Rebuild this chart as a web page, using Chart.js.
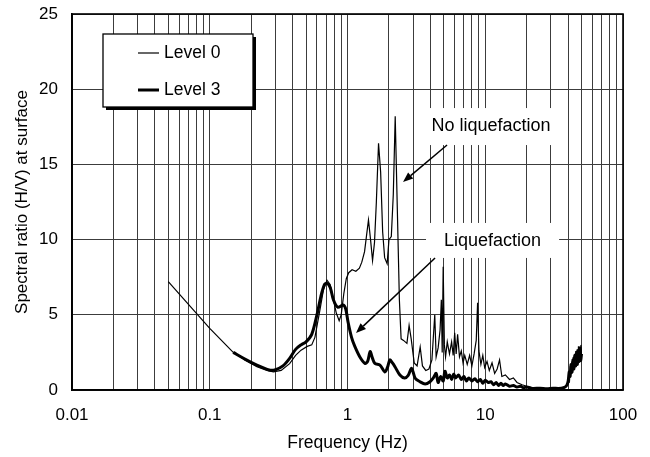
<!DOCTYPE html>
<html>
<head>
<meta charset="utf-8">
<script src="https://cdn.jsdelivr.net/npm/chart.js@4/dist/chart.umd.min.js"></script>
<style>
  html, body { margin: 0; padding: 0; background: #fff; }
  #c { display: block; }
</style>
</head>
<body>
<canvas id="c" width="650" height="457"></canvas>
<script>
// ---------------- DATA ----------------
const seriesNames = ['Level 0', 'Level 3'];

// Level 0 (thin line)
const level0Freq = [
  0.05, 0.1, 0.148, 0.18, 0.22, 0.26, 0.29, 0.33, 0.38, 0.42, 0.46, 0.51, 0.55, 0.58,
  0.63, 0.67, 0.71, 0.75, 0.79, 0.83, 0.87, 0.9, 0.94, 0.98, 1.02, 1.08, 1.15, 1.22,
  1.27, 1.33, 1.38, 1.42, 1.47, 1.52, 1.57, 1.62, 1.68, 1.74, 1.8, 1.86, 1.94, 2.0,
  2.08, 2.15, 2.22, 2.3, 2.38, 2.45, 2.55, 2.7, 2.8, 2.9, 3.05, 3.2, 3.37, 3.5, 3.7,
  3.9, 4.1, 4.3, 4.4, 4.55, 4.7, 4.8, 4.87, 4.95, 5.05, 5.15, 5.3, 5.5, 5.7, 5.85,
  6.0, 6.15, 6.3, 6.5, 6.7, 6.9, 7.1, 7.4, 7.7, 8.0, 8.3, 8.6, 8.8, 9.0, 9.3, 9.6,
  9.9, 10.3, 10.7, 11.2, 11.7, 12.2, 12.7, 13.2, 14, 15, 16, 17, 18.5, 20, 22, 25,
  30, 35, 38, 40, 40.5, 41, 41.5, 42, 42.5, 43, 43.5, 44, 44.5, 45, 45.5, 46, 46.5,
  47, 47.5, 48, 48.5, 49, 49.5, 50
];
const level0Ratio = [
  7.2, 4.1, 2.5, 2.0, 1.55, 1.3, 1.2, 1.3, 1.75, 2.3, 2.65, 2.9, 3.0, 3.5,
  5.3, 6.7, 7.3, 7.0, 6.0, 5.1, 4.6, 5.0, 6.4, 7.4, 7.8, 8.0, 7.9, 8.1,
  8.5, 9.2, 10.4, 11.3, 10.0, 8.6, 9.8, 12.5, 16.4, 14.5, 10.5, 8.8, 8.4, 10.0,
  10.2, 13.0, 18.2, 12.0, 6.0, 3.4, 3.3, 3.1, 4.3, 3.4, 1.8, 1.6, 2.86, 1.6, 1.3,
  1.4, 2.0, 5.0, 2.2, 2.8, 4.0, 6.0, 2.5, 8.2, 3.0, 2.2, 3.2, 2.4, 3.2, 2.3,
  3.8, 2.4, 3.7, 2.2, 2.6, 1.8, 2.3, 1.7, 2.3, 1.6, 2.4, 3.3, 5.8, 2.6, 1.7, 2.3,
  1.5, 1.9, 1.3, 1.8, 1.1, 1.4, 2.0, 0.9, 1.0, 0.7, 0.8, 0.5, 0.35, 0.25, 0.15, 0.1,
  0.1, 0.1, 0.2, 0.5, 1.1, 0.8, 1.6, 1.1, 1.9, 1.3, 2.2, 1.5, 2.4, 1.6, 2.6, 1.8, 2.7,
  1.7, 2.9, 2.0, 2.8, 1.9, 3.0, 2.3
];

// Level 3 (thick line)
const level3Freq = [
  0.148, 0.18, 0.22, 0.27, 0.3, 0.34, 0.38, 0.42, 0.46, 0.5, 0.55, 0.6, 0.64, 0.68,
  0.71, 0.75, 0.79, 0.85, 0.93, 0.97, 1.01, 1.07, 1.13, 1.23, 1.34, 1.4, 1.46, 1.52,
  1.58, 1.72, 1.87, 1.95, 2.03, 2.12, 2.21, 2.4, 2.6, 2.75, 2.92, 3.1, 3.36, 3.66,
  3.97, 4.2, 4.4, 4.55, 4.75, 4.95, 5.1, 5.3, 5.5, 5.7, 5.9, 6.1, 6.4, 6.7, 7.0,
  7.3, 7.6, 8.0, 8.4, 8.8, 9.2, 9.6, 10.0, 10.5, 11, 11.5, 12, 12.5, 13, 13.5, 14,
  15, 16, 17, 18, 19, 20, 22, 25, 28, 31, 34, 37, 39, 40, 40.7, 41.3, 42, 42.7, 43.3,
  44, 44.7, 45.3, 46, 46.7, 47.3, 48, 48.7, 49.3, 50
];
const level3Ratio = [
  2.5, 2.05, 1.65, 1.33, 1.35, 1.6, 2.1, 2.7, 3.0, 3.2, 3.7, 5.0, 6.2, 7.0,
  7.1, 6.8, 6.0, 5.5, 5.65, 5.4, 4.5, 3.5, 2.9, 2.2, 1.77, 1.9, 2.55, 2.1,
  1.77, 1.66, 1.2, 1.5, 2.0, 1.8, 1.55, 1.0, 0.8, 0.95, 1.44, 0.78, 0.55, 0.4,
  0.55, 0.8, 1.1, 0.5, 0.9, 0.6, 1.25, 0.8, 1.0, 0.7, 1.05, 0.8, 1.0, 0.7, 0.9,
  0.6, 0.8, 0.6, 0.75, 0.55, 0.7, 0.45, 0.65, 0.5, 0.55, 0.35, 0.5, 0.3, 0.45, 0.3, 0.4,
  0.25, 0.3, 0.2, 0.25, 0.15, 0.2, 0.1, 0.12, 0.08, 0.12, 0.1, 0.15, 0.3, 0.6, 1.2, 0.9, 1.7, 1.2, 2.0,
  1.4, 2.3, 1.6, 2.5, 1.7, 2.6, 1.9, 2.8, 2.0, 2.4
];

// Axis ticks
const xDecades = [0.01, 0.1, 1, 10, 100];
const xDecadeLabels = ['0.01', '0.1', '1', '10', '100'];
const yTicks = [0, 5, 10, 15, 20, 25];

// Annotations (data coordinates)
const annotationTexts = ['No liquefaction', 'Liquefaction'];
const annotationAt = [[11.0, 17.55], [11.3, 9.91]];
const arrowFrom = [[5.28, 16.29], [4.32, 8.78]];
const arrowTo = [[2.53, 13.83], [1.153, 3.79]];

// ---------------- BUILD ----------------
const toPoints = (xs, ys) => xs.map((x, i) => ({ x: x, y: ys[i] }));

const xTickValues = [];
for (let e = -2; e <= 1; e++) {
  for (let m = 1; m <= 9; m++) xTickValues.push(Number((m * Math.pow(10, e)).toPrecision(3)));
}
xTickValues.push(100);

const FONT = "'Liberation Sans', Arial, Helvetica, sans-serif";

const annotationBoxes = [
  { padX: 11, up: 18, down: 19 },
  { padX: 18, up: 18, down: 17 }
];

const decorPlugin = {
  id: 'decor',
  beforeDatasetsDraw(chart) {
    const { ctx, scales: { x, y } } = chart;
    ctx.save();
    ctx.font = '18px ' + FONT;
    annotationTexts.forEach((t, i) => {
      const cx = x.getPixelForValue(annotationAt[i][0]);
      const cy = y.getPixelForValue(annotationAt[i][1]);
      const w = ctx.measureText(t).width;
      const b = annotationBoxes[i];
      ctx.fillStyle = '#fff';
      ctx.fillRect(cx - w / 2 - b.padX, cy - b.up, w + 2 * b.padX, b.up + b.down);
    });
    ctx.restore();
  },
  afterDatasetsDraw(chart) {
    const { ctx, chartArea: a, scales: { x, y } } = chart;
    ctx.save();
    // frame
    ctx.strokeStyle = '#000';
    ctx.lineWidth = 1.6;
    ctx.strokeRect(a.left, a.top, a.right - a.left, a.bottom - a.top);

    // annotation texts
    ctx.fillStyle = '#000';
    ctx.font = '18px ' + FONT;
    ctx.textAlign = 'center';
    ctx.textBaseline = 'middle';
    annotationTexts.forEach((t, i) => {
      ctx.fillText(t, x.getPixelForValue(annotationAt[i][0]), y.getPixelForValue(annotationAt[i][1]));
    });
    // arrows
    arrowFrom.forEach((f, i) => {
      const x1 = x.getPixelForValue(f[0]), y1 = y.getPixelForValue(f[1]);
      const x2 = x.getPixelForValue(arrowTo[i][0]), y2 = y.getPixelForValue(arrowTo[i][1]);
      const ang = Math.atan2(y2 - y1, x2 - x1);
      const hl = 10, hw = 4;
      const bx = x2 - hl * Math.cos(ang), by = y2 - hl * Math.sin(ang);
      ctx.strokeStyle = '#000';
      ctx.lineWidth = 1.5;
      ctx.beginPath();
      ctx.moveTo(x1, y1);
      ctx.lineTo(bx, by);
      ctx.stroke();
      ctx.beginPath();
      ctx.moveTo(x2, y2);
      ctx.lineTo(bx + hw * Math.sin(ang), by - hw * Math.cos(ang));
      ctx.lineTo(bx - hw * Math.sin(ang), by + hw * Math.cos(ang));
      ctx.closePath();
      ctx.fill();
    });

    // legend box
    const lx = a.left + 31, ly = a.top + 20, lw = 150, lh = 73;
    ctx.fillStyle = '#000';
    ctx.fillRect(lx + 3, ly + 3, lw, lh);
    ctx.fillStyle = '#fff';
    ctx.fillRect(lx, ly, lw, lh);
    ctx.strokeStyle = '#000';
    ctx.lineWidth = 1.3;
    ctx.strokeRect(lx, ly, lw, lh);
    const widths = [1.2, 3];
    const rowY = [ly + 19, ly + 56];
    ctx.font = '17.5px ' + FONT;
    ctx.textAlign = 'left';
    ctx.textBaseline = 'middle';
    seriesNames.forEach((n, i) => {
      ctx.lineWidth = widths[i];
      ctx.beginPath();
      ctx.moveTo(lx + 35, rowY[i]);
      ctx.lineTo(lx + 56, rowY[i]);
      ctx.stroke();
      ctx.fillStyle = '#000';
      ctx.fillText(n, lx + 61, rowY[i]);
    });
    ctx.restore();
  }
};

new Chart(document.getElementById('c'), {
  type: 'line',
  data: {
    datasets: [
      {
        label: seriesNames[1],
        data: toPoints(level3Freq, level3Ratio),
        borderColor: '#000',
        borderWidth: 3,
        borderJoinStyle: 'round',
        pointRadius: 0,
        tension: 0.3,
        fill: false
      },
      {
        label: seriesNames[0],
        data: toPoints(level0Freq, level0Ratio),
        borderColor: '#000',
        borderWidth: 1.2,
        pointRadius: 0,
        tension: 0,
        fill: false
      }
    ]
  },
  options: {
    responsive: false,
    animation: false,
    devicePixelRatio: 1,
    layout: { autoPadding: false, padding: { top: 14, right: 27, left: 0, bottom: 0 } },
    plugins: { legend: { display: false }, tooltip: { enabled: false } },
    scales: {
      x: {
        type: 'logarithmic',
        min: 0.01,
        max: 100,
        afterBuildTicks: (axis) => { axis.ticks = xTickValues.map(v => ({ value: v })); },
        afterFit: (s) => { s.height = 67; s.paddingLeft = 0; s.paddingRight = 0; },
        ticks: {
          autoSkip: false,
          maxRotation: 0,
          padding: 15,
          color: '#000',
          font: { family: FONT, size: 17 },
          callback: (v) => {
            const i = xDecades.findIndex(d => Math.abs(d - v) / d < 1e-6);
            return i >= 0 ? xDecadeLabels[i] : '';
          }
        },
        grid: { color: '#3c3c3c', lineWidth: 1, drawTicks: false },
        border: { color: '#000', width: 1.6 },
        title: {
          display: true,
          text: 'Frequency (Hz)',
          color: '#000',
          font: { family: FONT, size: 17.5 },
          padding: { top: 0, bottom: 3 }
        }
      },
      y: {
        type: 'linear',
        min: 0,
        max: 25,
        afterBuildTicks: (axis) => { axis.ticks = yTicks.map(v => ({ value: v })); },
        afterFit: (s) => { s.width = 72; s.paddingTop = 0; s.paddingBottom = 0; },
        ticks: {
          padding: 14,
          color: '#000',
          font: { family: FONT, size: 17 }
        },
        grid: { color: '#3c3c3c', lineWidth: 1, drawTicks: false },
        border: { color: '#000', width: 1.6 },
        title: {
          display: true,
          text: 'Spectral ratio (H/V) at surface',
          color: '#000',
          font: { family: FONT, size: 17 },
          padding: { top: 12, bottom: 0 }
        }
      }
    }
  },
  plugins: [decorPlugin]
});
</script>
</body>
</html>
